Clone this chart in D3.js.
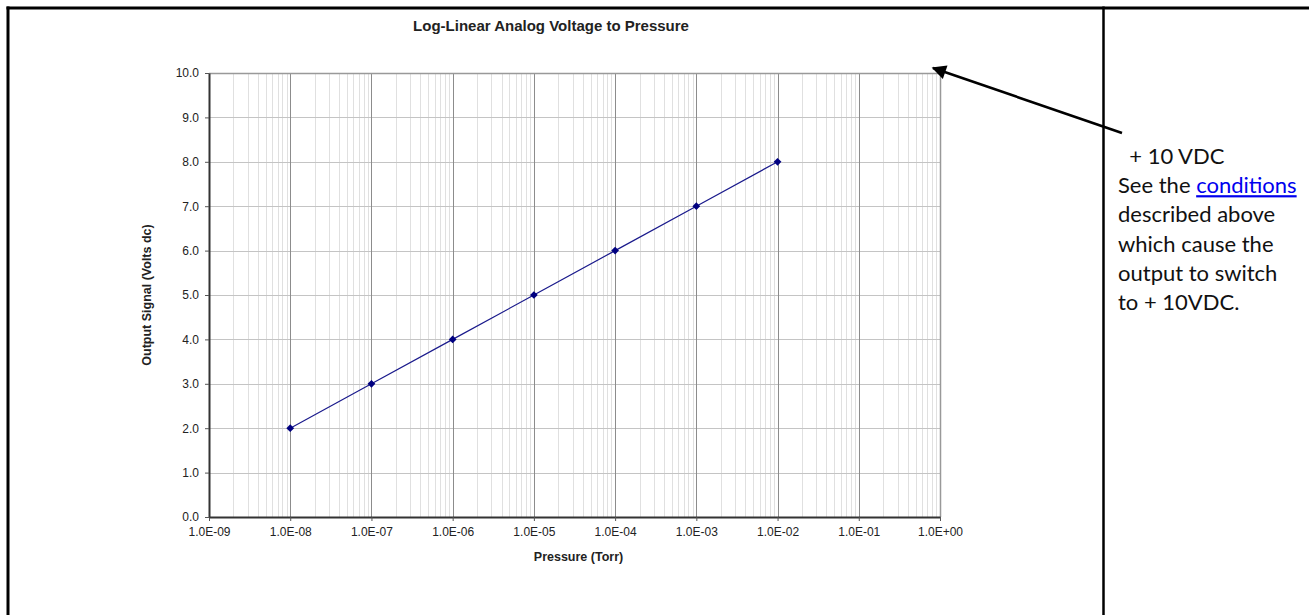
<!DOCTYPE html>
<html>
<head>
<meta charset="utf-8">
<script src="https://cdnjs.cloudflare.com/ajax/libs/d3/7.8.5/d3.min.js"></script>
<style>
  html, body { margin: 0; padding: 0; background: #fff; }
  svg { display: block; }
  .chart text { font-family: "Liberation Sans", Arial, sans-serif; fill: #222; }
  .note { font-family: Lato, "Open Sans", sans-serif; font-size: 22px; fill: #111; }
  .note .link { fill: #0000ee; text-decoration: underline; }
</style>
</head>
<body>
<script>
//------------------------------------------------------------------------------
// Data
//------------------------------------------------------------------------------

var pressures = [1e-8, 1e-7, 1e-6, 1e-5, 1e-4, 1e-3, 1e-2];
var volts     = [2.0, 3.0, 4.0, 5.0, 6.0, 7.0, 8.0];

var xTickValues = [1e-9, 1e-8, 1e-7, 1e-6, 1e-5, 1e-4, 1e-3, 1e-2, 1e-1, 1e0];
var xTickLabels = ["1.0E-09", "1.0E-08", "1.0E-07", "1.0E-06", "1.0E-05",
                   "1.0E-04", "1.0E-03", "1.0E-02", "1.0E-01", "1.0E+00"];
var yTickValues = [0, 1, 2, 3, 4, 5, 6, 7, 8, 9, 10];

var chartTitle = "Log-Linear Analog Voltage to Pressure";
var xTitle = "Pressure (Torr)";
var yTitle = "Output Signal (Volts dc)";

var noteLines = [
  [{t: "  + 10 VDC"}],
  [{t: "See the "}, {t: "conditions", link: true}],
  [{t: "described above"}],
  [{t: "which cause the"}],
  [{t: "output to switch"}],
  [{t: "to + 10VDC."}]
];

//------------------------------------------------------------------------------
// Layout
//------------------------------------------------------------------------------

var W = 1309, H = 615;
var plot = {left: 209, top: 73, right: 940, bottom: 517};

var svg = d3.select("body").append("svg")
  .attr("width", W)
  .attr("height", H);

var x = d3.scaleLog()
  .domain([xTickValues[0], xTickValues[xTickValues.length - 1]])
  .range([plot.left, plot.right]);

var y = d3.scaleLinear()
  .domain([0, 10])
  .range([plot.bottom, plot.top]);

//--------------------------------------
// Table borders
//--------------------------------------

var borders = svg.append("g").attr("stroke", "#000").attr("stroke-width", 3);
borders.append("line").attr("x1", 6.5).attr("x2", W).attr("y1", 8).attr("y2", 8);
borders.append("line").attr("x1", 8).attr("x2", 8).attr("y1", 6.5).attr("y2", H);
borders.append("line").attr("x1", 1103.5).attr("x2", 1103.5).attr("y1", 6.5).attr("y2", H)
  .attr("stroke-width", 2.5);

//--------------------------------------
// Grid
//--------------------------------------

var chart = svg.append("g").attr("class", "chart");

var minorTicks = [];
xTickValues.slice(0, -1).forEach(function(d) {
  for (var k = 2; k <= 9; k++) minorTicks.push(d * k);
});

chart.append("g").selectAll("line")
  .data(minorTicks)
  .join("line")
    .attr("x1", function(d) { return Math.round(x(d)) + 0.5; })
    .attr("x2", function(d) { return Math.round(x(d)) + 0.5; })
    .attr("y1", plot.top)
    .attr("y2", plot.bottom)
    .attr("stroke", "#e0e0e0")
    .attr("stroke-width", 1);

chart.append("g").selectAll("line")
  .data(yTickValues.slice(1))
  .join("line")
    .attr("x1", plot.left)
    .attr("x2", plot.right)
    .attr("y1", function(d) { return Math.round(y(d)) + 0.5; })
    .attr("y2", function(d) { return Math.round(y(d)) + 0.5; })
    .attr("stroke", "#c4c4c4")
    .attr("stroke-width", 1.2);

chart.append("g").selectAll("line")
  .data(xTickValues.slice(1))
  .join("line")
    .attr("x1", function(d) { return Math.round(x(d)) + 0.5; })
    .attr("x2", function(d) { return Math.round(x(d)) + 0.5; })
    .attr("y1", plot.top)
    .attr("y2", plot.bottom)
    .attr("stroke", "#8c8c8c")
    .attr("stroke-width", 1);

// top / right frame
chart.append("path")
  .attr("d", "M" + plot.left + "," + (plot.top + 0.5) + "H" + (plot.right + 0.5) + "V" + plot.bottom)
  .attr("fill", "none")
  .attr("stroke", "#999")
  .attr("stroke-width", 1.5);

//--------------------------------------
// Axes
//--------------------------------------

var xAxis = chart.append("g")
  .attr("transform", "translate(0," + plot.bottom + ")")
  .call(d3.axisBottom(x)
    .tickValues(xTickValues)
    .tickFormat(function(d, i) { return xTickLabels[i]; })
    .tickSizeInner(4)
    .tickSizeOuter(0)
    .tickPadding(6));

var yAxis = chart.append("g")
  .attr("transform", "translate(" + plot.left + ",0)")
  .call(d3.axisLeft(y)
    .tickValues(yTickValues)
    .tickFormat(d3.format(".1f"))
    .tickSizeInner(4)
    .tickSizeOuter(0)
    .tickPadding(6));

[xAxis, yAxis].forEach(function(a) {
  a.select(".domain").attr("stroke", "#333").attr("stroke-width", 2);
  a.selectAll(".tick line").attr("stroke", "#555");
  a.selectAll(".tick text").attr("font-size", 12).attr("fill", "#222");
});

//--------------------------------------
// Titles
//--------------------------------------

chart.append("text")
  .attr("x", 551)
  .attr("y", 31)
  .attr("text-anchor", "middle")
  .attr("font-size", 15)
  .attr("font-weight", "bold")
  .text(chartTitle);

chart.append("text")
  .attr("x", (plot.left + plot.right) / 2 + 4)
  .attr("y", 561)
  .attr("text-anchor", "middle")
  .attr("font-size", 12.5)
  .attr("font-weight", "bold")
  .text(xTitle);

chart.append("text")
  .attr("transform", "translate(151," + ((plot.top + plot.bottom) / 2) + ") rotate(-90)")
  .attr("text-anchor", "middle")
  .attr("font-size", 12.5)
  .attr("font-weight", "bold")
  .text(yTitle);

//--------------------------------------
// Series
//--------------------------------------

var points = pressures.map(function(p, i) { return {p: p, v: volts[i]}; });

chart.append("path")
  .datum(points)
  .attr("fill", "none")
  .attr("stroke", "#1a1a8c")
  .attr("stroke-width", 1.2)
  .attr("d", d3.line()
    .x(function(d) { return x(d.p); })
    .y(function(d) { return y(d.v); }));

chart.append("g").selectAll("path")
  .data(points)
  .join("path")
    .attr("transform", function(d) { return "translate(" + x(d.p) + "," + y(d.v) + ") rotate(45)"; })
    .attr("d", d3.symbol().type(d3.symbolSquare).size(30))
    .attr("fill", "#000080");

//--------------------------------------
// Annotation
//--------------------------------------

svg.append("defs").append("marker")
  .attr("id", "arrowhead")
  .attr("viewBox", "0 0 10 10")
  .attr("refX", 9)
  .attr("refY", 5)
  .attr("markerWidth", 7)
  .attr("markerHeight", 5.5)
  .attr("markerUnits", "strokeWidth")
  .attr("orient", "auto")
  .append("path")
    .attr("d", "M0,0L10,5L0,10Z")
    .attr("fill", "#000");

svg.append("line")
  .attr("x1", 1122)
  .attr("y1", 133)
  .attr("x2", 933)
  .attr("y2", 68)
  .attr("stroke", "#000")
  .attr("stroke-width", 2.6)
  .attr("marker-end", "url(#arrowhead)");

var note = svg.append("text")
  .attr("class", "note")
  .attr("xml:space", "preserve");

noteLines.forEach(function(line, i) {
  line.forEach(function(part, j) {
    var span = note.append("tspan").text(part.t);
    if (j == 0) span.attr("x", 1118).attr("y", 164 + i * 29.2);
    if (part.link) span.attr("class", "link");
  });
});
</script>
</body>
</html>
